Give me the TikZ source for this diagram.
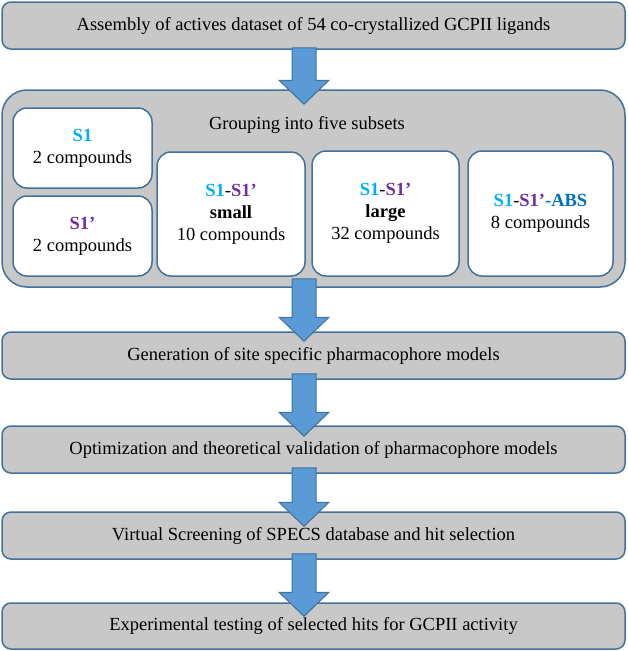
\documentclass[tikz,border=0pt]{standalone}
\usepackage{fontspec}
\setmainfont{Liberation Serif}
\usepackage{tikz}
\usetikzlibrary{calc, positioning}
\usepackage{xcolor}
\definecolor{boxline}{HTML}{41719C}
\definecolor{boxgrey}{HTML}{C8C8C8}
\definecolor{arrowblue}{HTML}{5B9BD5}
\definecolor{sonecol}{HTML}{00B0F0}
\definecolor{sprimecol}{HTML}{7030A0}
\definecolor{abscol}{HTML}{0070C0}
\tikzset{
  stagebox/.style={draw=boxline, line width=1.5pt, fill=boxgrey, rounded corners=9pt,
    minimum width=623pt, minimum height=47pt, inner sep=0pt, align=center},
  subsetbox/.style={draw=boxline, line width=1.5pt, fill=white, rounded corners=14pt,
    inner sep=0pt, align=center},
  arrowbody/.style={draw=boxline, line width=1pt, fill=arrowblue},
}
\newcommand{\sone}{\textcolor{sonecol}{\textbf{S1}}}
\newcommand{\sprime}{\textcolor{sprimecol}{\textbf{S1’}}}
% block arrow from #1 (shaft top) to #2 (tip)
\newcommand{\flowarrow}[2]{%
  \filldraw[arrowbody] ($(#1)+(-12,0)$) -- ($(#2)+(-12,-24)$) -- ($(#2)+(-25,-24)$) -- (#2)
    -- ($(#2)+(25,-24)$) -- ($(#2)+(12,-24)$) -- ($(#1)+(12,0)$) -- cycle;}

\begin{document}
\begin{tikzpicture}[x=1pt, y=-1pt, font=\fontsize{18.5}{22}\selectfont]
  \useasboundingbox (0,0) rectangle (627,651);
  \coordinate (ax) at (304,0);

  % stages
  \node[stagebox] (assembly) at (313.5,25.5) {Assembly of actives dataset of 54 co-crystallized GCPII ligands};
  \node[stagebox, rounded corners=25pt, minimum height=197pt] (grouping) at (313.5,188.5) {};
  \node (grouptitle) at (307,125) {Grouping into five subsets};
  \node[stagebox] (generation) at (313.5,355.5) {Generation of site specific pharmacophore models};
  \node[stagebox] (optimization) at (313.5,449.5) {Optimization and theoretical validation of pharmacophore models};
  \node[stagebox] (screening) at (313.5,535.5) {Virtual Screening of SPECS database and hit selection};
  \node[stagebox, minimum height=46pt] (testing) at (313.5,626) {Experimental testing of selected hits for GCPII activity};

  % subsets
  \node[subsetbox, minimum width=139pt, minimum height=80pt] (sub1) at (82.5,148) {\sone\\2 compounds};
  \node[subsetbox, minimum width=139pt, minimum height=80pt] (sub2) at (82.5,236) {\sprime\\2 compounds};
  \node[subsetbox, minimum width=148pt, minimum height=124pt] (sub3) at (231,214) {\sone-\sprime\\\textbf{small}\\10 compounds};
  \node[subsetbox, minimum width=147pt, minimum height=125pt] (sub4) at (385.5,213.5) {\sone-\sprime\\\textbf{large}\\32 compounds};
  \node[subsetbox, minimum width=145pt, minimum height=125pt] (sub5) at (540.5,213.5) {\sone-\sprime\textcolor{abscol}{\textbf{-ABS}}\\8 compounds};

  % arrows
  \coordinate (s1) at ($(assembly.south -| ax)+(0,-2)$);
  \coordinate (t1) at ($(grouping.north -| ax)+(0,15)$);
  \coordinate (s2) at ($(grouping.south -| ax)+(0,-9)$);
  \coordinate (t2) at ($(generation.north -| ax)+(0,10)$);
  \coordinate (s3) at ($(generation.south -| ax)+(0,-6)$);
  \coordinate (t3) at ($(optimization.north -| ax)+(0,11)$);
  \coordinate (s4) at ($(optimization.south -| ax)+(0,-6)$);
  \coordinate (t4) at ($(screening.north -| ax)+(0,15)$);
  \coordinate (s5) at ($(screening.south -| ax)+(0,-6)$);
  \coordinate (t5) at ($(testing.north -| ax)+(0,14)$);
  \flowarrow{s1}{t1}
  \flowarrow{s2}{t2}
  \flowarrow{s3}{t3}
  \flowarrow{s4}{t4}
  \flowarrow{s5}{t5}
\end{tikzpicture}
\end{document}
